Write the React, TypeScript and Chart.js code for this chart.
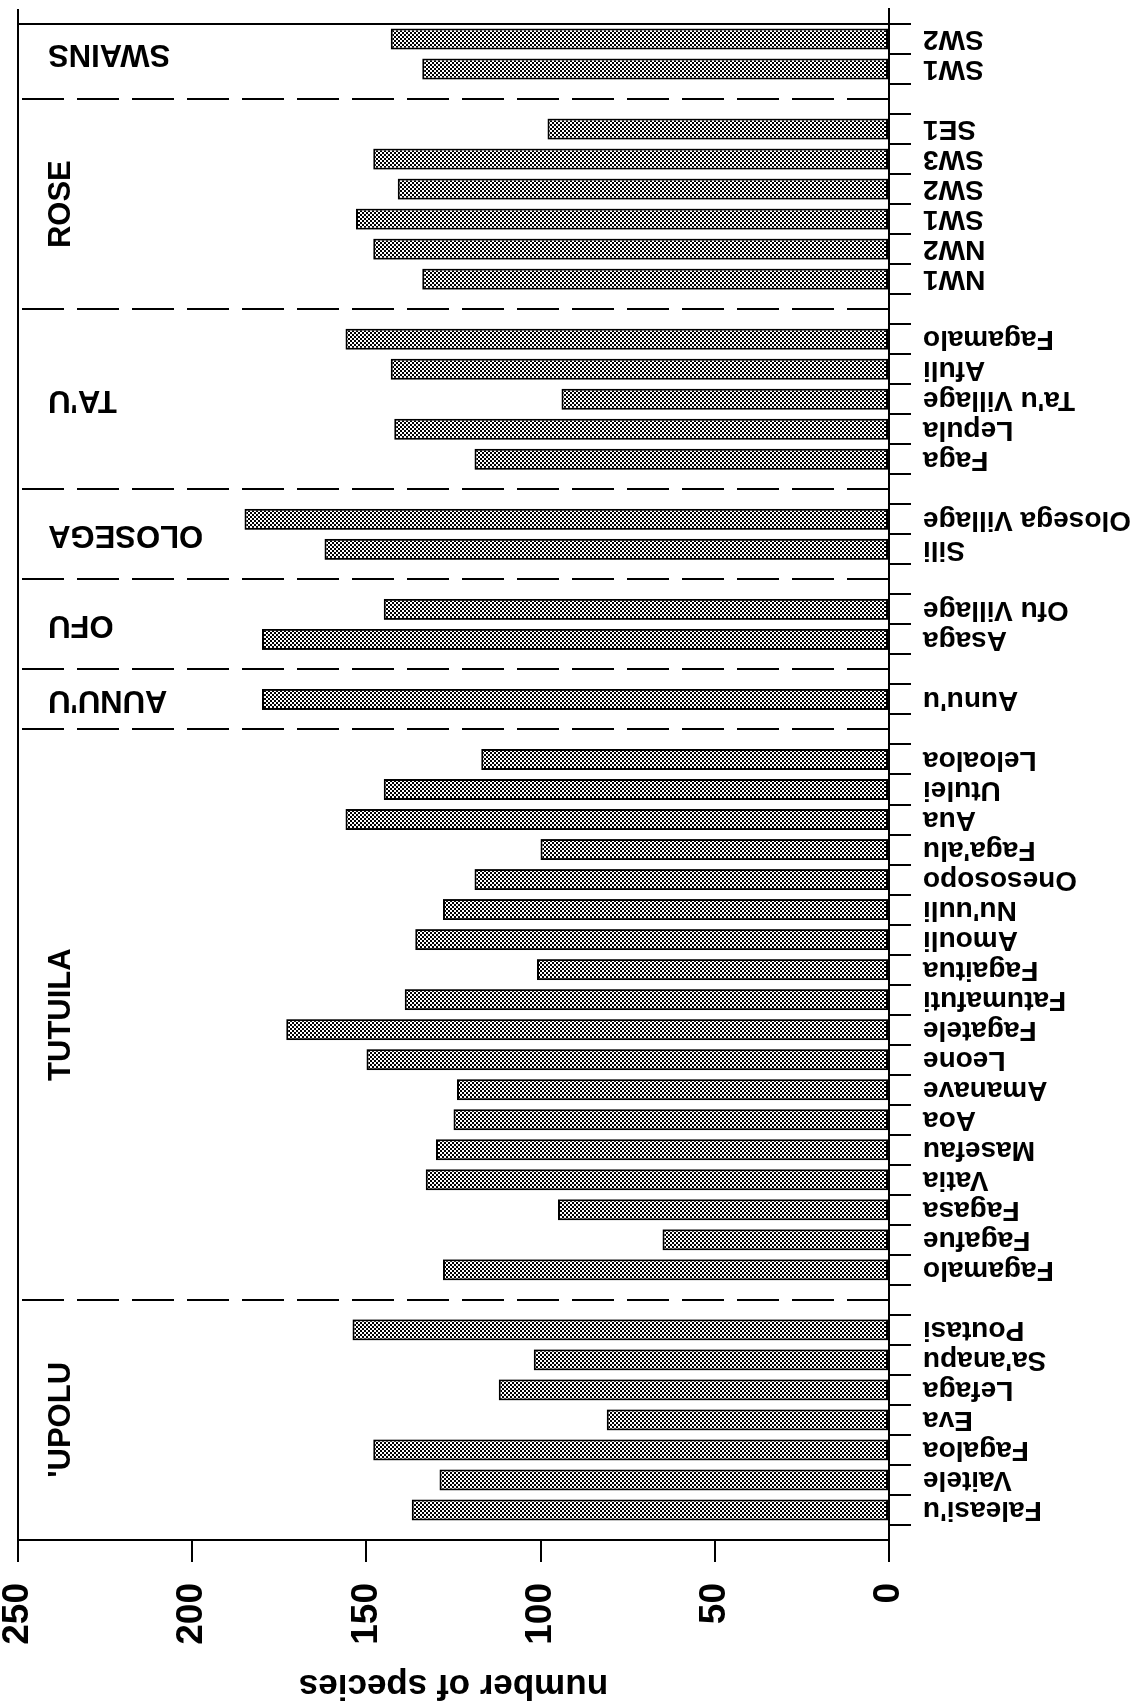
import React, { useEffect, useRef } from 'react';
import { Chart, registerables } from 'chart.js';

Chart.register(...registerables);

// ---- data (original orientation: vertical bar chart, page shows it rotated 90° CCW) ----
const groupNames = ["'UPOLU", 'TUTUILA', "AUNU'U", 'OFU', 'OLOSEGA', "TA'U", 'ROSE', 'SWAINS'];

const upoluSites = ["Faleasi'u", 'Vaitele', 'Fagaloa', 'Eva', 'Lefaga', "Sa'anapu", 'Poutasi'];
const upoluValues = [137, 129, 148, 81, 112, 102, 154];

const tutuilaSites = [
  'Fagamalo', 'Fagafue', 'Fagasa', 'Vatia', 'Masefau', 'Aoa', 'Amanave', 'Leone', 'Fagatele',
  'Fatumafuti', 'Fagaitua', 'Amouli', "Nu'uuli", 'Onesosopo', "Faga'alu", 'Aua', 'Utulei', 'Leloaloa',
];
const tutuilaValues = [128, 65, 95, 133, 130, 125, 124, 150, 173, 139, 101, 136, 128, 119, 100, 156, 145, 117];

const aunuuSites = ["Aunu'u"];
const aunuuValues = [180];

const ofuSites = ['Asaga', 'Ofu Village'];
const ofuValues = [180, 145];

const olosegaSites = ['Sili', 'Olosega Village'];
const olosegaValues = [162, 185];

const tauSites = ['Faga', 'Lepula', "Ta'u Village", 'Afuli', 'Fagamalo'];
const tauValues = [119, 142, 94, 143, 156];

const roseSites = ['NW1', 'NW2', 'SW1', 'SW2', 'SW3', 'SE1'];
const roseValues = [134, 148, 153, 141, 148, 98];

const swainsSites = ['SW1', 'SW2'];
const swainsValues = [134, 143];

const valueTicks = [0, 50, 100, 150, 200, 250];
const axisTitle = 'number of species';

const W = 1708;
const H = 1144;
const FONT = '"Liberation Sans", Arial, Helvetica, sans-serif';

export default function App() {
  const ref = useRef<HTMLCanvasElement | null>(null);

  useEffect(() => {
    const canvas = ref.current;
    if (!canvas) return;

    const groups = [
      { name: groupNames[0], sites: upoluSites, values: upoluValues },
      { name: groupNames[1], sites: tutuilaSites, values: tutuilaValues },
      { name: groupNames[2], sites: aunuuSites, values: aunuuValues },
      { name: groupNames[3], sites: ofuSites, values: ofuValues },
      { name: groupNames[4], sites: olosegaSites, values: olosegaValues },
      { name: groupNames[5], sites: tauSites, values: tauValues },
      { name: groupNames[6], sites: roseSites, values: roseValues },
      { name: groupNames[7], sites: swainsSites, values: swainsValues },
    ];

    const labels: string[] = [''];
    const values: (number | null)[] = [null];
    const sepIdx: number[] = [];
    const spans: { name: string; start: number; end: number; horizontal: boolean }[] = [];
    groups.forEach((g, gi) => {
      if (gi > 0) {
        labels.push('');
        values.push(null);
        sepIdx.push(labels.length - 1);
      }
      const start = labels.length;
      g.sites.forEach((s, i) => {
        labels.push(s);
        values.push(g.values[i]);
      });
      spans.push({ name: g.name, start, end: labels.length - 1, horizontal: g.sites.length >= 6 });
    });
    labels.push('');
    values.push(null);
    const lastIdx = labels.length - 1;

    // checker dither fill
    const pc = document.createElement('canvas');
    pc.width = 4;
    pc.height = 4;
    const pctx = pc.getContext('2d')!;
    pctx.fillStyle = '#ffffff';
    pctx.fillRect(0, 0, 4, 4);
    pctx.fillStyle = '#000000';
    pctx.fillRect(0, 0, 2, 2);
    pctx.fillRect(2, 2, 2, 2);
    const pattern = canvas.getContext('2d')!.createPattern(pc, 'repeat') as CanvasPattern;

    const overlay = {
      id: 'overlay',
      afterDatasetsDraw(chart: any) {
        const { ctx, chartArea } = chart;
        const x = chart.scales.x;
        ctx.save();
        ctx.strokeStyle = '#000';
        ctx.lineWidth = 2;
        ctx.setLineDash([42, 13]);
        sepIdx.forEach((i) => {
          const px = Math.round(x.getPixelForValue(i));
          ctx.beginPath();
          ctx.moveTo(px, chartArea.bottom);
          ctx.lineTo(px, chartArea.top);
          ctx.stroke();
        });
        ctx.setLineDash([]);
        ctx.fillStyle = '#000';
        ctx.font = `bold 31px ${FONT}`;
        spans.forEach((s) => {
          const cx = x.getPixelForValue((s.start + s.end) / 2);
          if (s.horizontal) {
            ctx.textAlign = 'center';
            ctx.textBaseline = 'alphabetic';
            ctx.fillText(s.name, cx, chartArea.top + 52);
          } else {
            ctx.save();
            ctx.translate(cx, chartArea.top + 30);
            ctx.rotate(-Math.PI / 2);
            ctx.textAlign = 'right';
            ctx.textBaseline = 'middle';
            ctx.fillText(s.name, 0, 0);
            ctx.restore();
          }
        });
        ctx.restore();
      },
    };

    const chart = new Chart(canvas, {
      type: 'bar',
      data: {
        labels,
        datasets: [
          {
            data: values,
            backgroundColor: pattern,
            borderColor: '#000',
            borderWidth: 2,
            borderSkipped: false,
            barPercentage: 0.7,
            categoryPercentage: 1,
          },
        ],
      },
      options: {
        responsive: false,
        animation: false,
        devicePixelRatio: 1,
        layout: { padding: { top: 18, right: 9, left: 0, bottom: 0 } },
        plugins: { legend: { display: false }, tooltip: { enabled: false } },
        scales: {
          x: {
            type: 'category',
            offset: false,
            grid: {
              display: true,
              drawOnChartArea: true,
              color: (c: any) => (c.index === 0 || c.index === lastIdx ? '#000' : 'rgba(0,0,0,0)'),
              lineWidth: 2,
              tickColor: '#000',
              tickLength: 22,
              tickWidth: 2,
            },
            border: { display: true, color: '#000', width: 2 },
            ticks: {
              autoSkip: false,
              minRotation: 90,
              maxRotation: 90,
              padding: 12,
              color: '#000',
              font: { family: FONT, size: 28, weight: 'bold' },
            },
            afterFit: (s: any) => {
              s.height = 255;
              s.paddingLeft = 0;
              s.paddingRight = 0;
            },
          },
          y: {
            min: 0,
            max: 250,
            afterBuildTicks: (s: any) => {
              s.ticks = valueTicks.map((v) => ({ value: v }));
            },
            grid: {
              display: true,
              color: (c: any) => (c.tick && c.tick.value === 250 ? '#000' : 'rgba(0,0,0,0)'),
              lineWidth: 2,
              tickColor: '#000',
              tickLength: 22,
              tickWidth: 2,
            },
            border: { display: true, color: '#000', width: 2 },
            ticks: {
              padding: 21,
              color: '#000',
              font: { family: FONT, size: 37, weight: 'bold' },
            },
            title: {
              display: true,
              text: axisTitle,
              color: '#000',
              font: { family: FONT, size: 35, weight: 'bold' },
              padding: { top: 2, bottom: 0 },
            },
            afterFit: (s: any) => {
              s.width = 168;
              s.paddingTop = 0;
              s.paddingBottom = 0;
            },
          },
        },
      },
      plugins: [overlay],
    } as any);

    return () => chart.destroy();
  }, []);

  return (
    <div
      style={{
        position: 'fixed',
        left: 0,
        top: 0,
        width: W,
        height: H,
        transformOrigin: '0 0',
        transform: `translate(0px, ${W}px) rotate(-90deg)`,
        background: '#fff',
      }}
    >
      <canvas ref={ref} width={W} height={H} style={{ display: 'block', width: W, height: H }} />
    </div>
  );
}
